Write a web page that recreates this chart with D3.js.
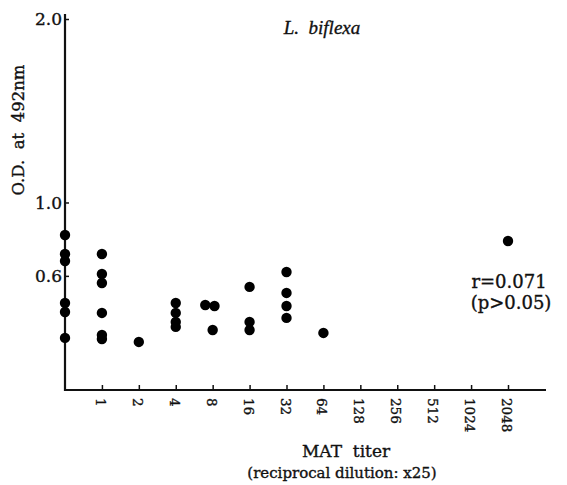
<!DOCTYPE html>
<html><head><meta charset="utf-8">
<script src="https://cdn.jsdelivr.net/npm/d3@7"></script>
<style>body{margin:0;background:#fff}svg{display:block}text{font-family:"DejaVu Serif",serif;fill:#111;stroke:#111;stroke-width:0.35px;white-space:pre}</style>
</head><body>
<script>
// categories of MAT titer (first is "negative", unlabeled)
const categories = ["", "1", "2", "4", "8", "16", "32", "64", "128", "256", "512", "1024", "2048"];
// points: category label and O.D. value
const pointCats = ["", "", "", "", "", "",
  "1", "1", "1", "1", "1", "1",
  "2",
  "4", "4", "4", "4",
  "8", "8", "8",
  "16", "16", "16",
  "32", "32", "32", "32",
  "64",
  "2048"];
const pointOD = [0.823, 0.719, 0.681, 0.452, 0.403, 0.262,
  0.719, 0.610, 0.561, 0.398, 0.278, 0.256,
  0.240,
  0.452, 0.398, 0.349, 0.322,
  0.441, 0.436, 0.305,
  0.540, 0.349, 0.305,
  0.621, 0.507, 0.436, 0.371,
  0.289,
  0.790];
// horizontal dodge (in category units) for overlapping dots
const pointDodge = [0,0,0,0,0,0, 0,0,0,0,0,0, 0, 0,0,0,0, -0.2,0.05,0, 0,0,0, 0,0,0,0, 0, 0];
const yTicks = [2.0, 1.0, 0.6];
const yTickLabels = ["2.0", "1.0", "0.6"];

const W = 567, H = 485;
const svg = d3.select("body").append("svg").attr("width", W).attr("height", H);

const x = d3.scaleLinear().domain([0, 12]).range([65, 508]);
const catIndex = c => categories.indexOf(c);
const y = d3.scaleLinear().domain([-0.022, 2.0]).range([390, 19]);

// axes lines
svg.append("line").attr("x1", 65).attr("x2", 65).attr("y1", 14).attr("y2", 391)
  .attr("stroke", "#111").attr("stroke-width", 2.2);
svg.append("line").attr("x1", 64).attr("x2", 546).attr("y1", 390).attr("y2", 390)
  .attr("stroke", "#111").attr("stroke-width", 2.2);

// y ticks
const yAxis = d3.axisRight(y).tickValues(yTicks).tickFormat((d, i) => yTickLabels[i]).tickSize(4).tickPadding(0);
const gy = svg.append("g").attr("transform", "translate(65,0)").call(yAxis);
gy.select(".domain").remove();
gy.selectAll(".tick line").attr("stroke", "#111").attr("stroke-width", 1.5);
gy.selectAll(".tick text").attr("x", -3).attr("text-anchor", "end").attr("dy", "0.35em")
  .style("font-size", "17px").style("font-family", "'DejaVu Serif',serif").attr("fill", "#111");

// x ticks (inward)
const xAxis = d3.axisTop(x).tickValues(d3.range(1, 13)).tickFormat("").tickSize(5);
const gx = svg.append("g").attr("transform", "translate(0,390)").call(xAxis);
gx.select(".domain").remove();
gx.selectAll(".tick line").attr("stroke", "#111").attr("stroke-width", 1.5);

// rotated x tick labels
svg.append("g").selectAll("text").data(categories.slice(1)).join("text")
  .attr("transform", (d, i) => `translate(${x(i + 1) - 6},398) rotate(90)`)
  .attr("text-anchor", "start")
  .style("font-size", "13.5px").text(d => d);

// points
svg.append("g").selectAll("circle").data(pointOD).join("circle")
  .attr("cx", (d, i) => x(catIndex(pointCats[i]) + pointDodge[i]))
  .attr("cy", d => y(d)).attr("r", 5.2).attr("fill", "#000");

// titles / labels
svg.append("text").attr("x", 322).attr("y", 34).attr("text-anchor", "middle")
  .style("font-family", "'Liberation Serif',serif")
  .style("font-size", "19px").style("font-style", "italic").text("L.  biflexa");
svg.append("text").attr("transform", "translate(24,130) rotate(-90)").attr("text-anchor", "middle")
  .style("font-size", "16.5px").text("O.D.  at  492nm");
svg.append("text").attr("x", 509).attr("y", 288).attr("text-anchor", "middle")
  .style("font-size", "18px").text("r=0.071");
svg.append("text").attr("x", 511).attr("y", 309).attr("text-anchor", "middle")
  .style("font-size", "18px").text("(p>0.05)");
svg.append("text").attr("x", 346).attr("y", 457).attr("text-anchor", "middle")
  .style("font-size", "17px").text("MAT  titer");
svg.append("text").attr("x", 342).attr("y", 478).attr("text-anchor", "middle")
  .style("font-size", "15px").text("(reciprocal dilution: x25)");
</script>
</body></html>
